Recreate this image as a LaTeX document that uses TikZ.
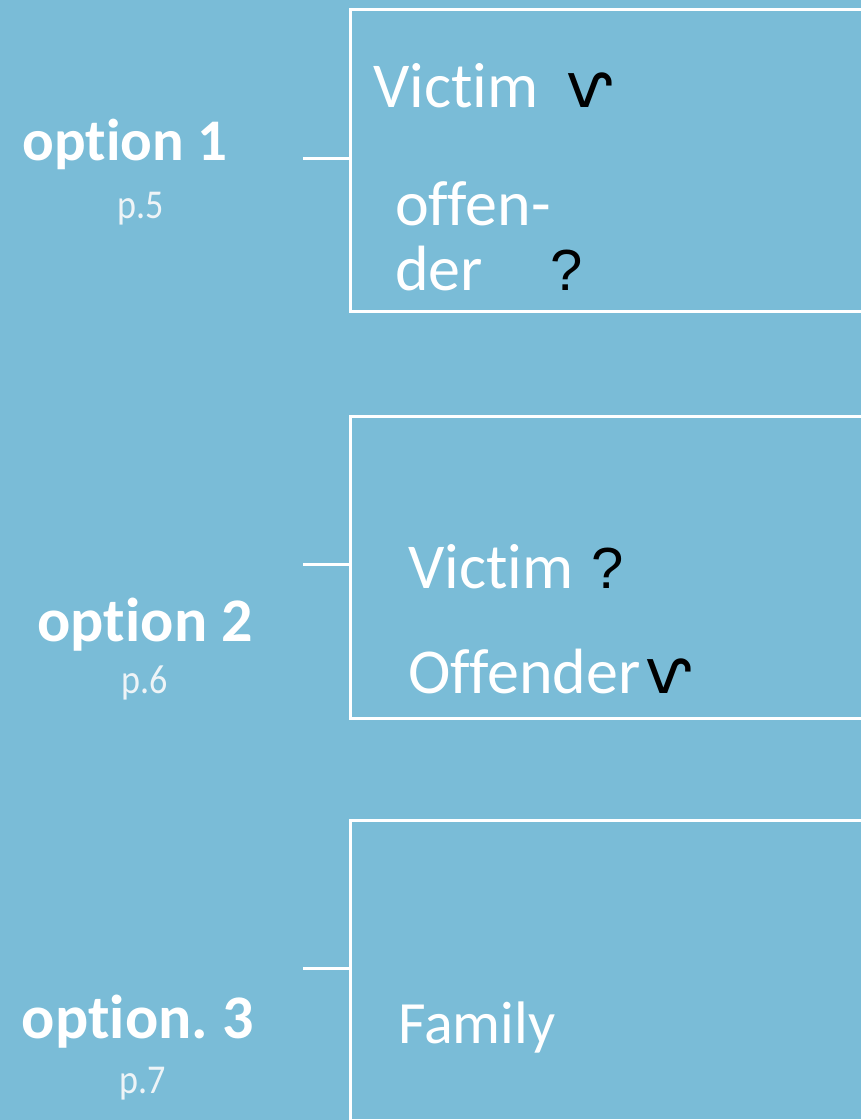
\documentclass[tikz,border=0pt]{standalone}
\usepackage{fontspec}
\setmainfont{Carlito}[Ligatures=NoCommon]
\newfontfamily\narrowfont{Carlito}[Ligatures=NoCommon,FakeStretch=0.88]
\newfontfamily\markfont{DejaVu Sans}
\newfontfamily\askfont{Liberation Sans}
\usetikzlibrary{positioning}
\definecolor{sky}{HTML}{7ABCD7}
\definecolor{pagegrey}{HTML}{EEF4F7}
\tikzset{
	optbox/.style={
		rectangle,
		draw=white,
		line width=3pt,
		minimum width=560pt,
		minimum height=302pt,
		anchor=north west,
		inner sep=0pt
	},
	conn/.style={
		draw=white,
		line width=3pt
	},
	optlabel/.style={
		text=white,
		font=\bfseries\fontsize{60}{60}\selectfont,
		anchor=base,
		inner sep=0pt
	},
	pagelabel/.style={
		text=pagegrey,
		font=\narrowfont\fontsize{41}{41}\selectfont,
		anchor=base,
		inner sep=0pt
	},
	entry/.style={
		text=white,
		font=\fontsize{64}{64}\selectfont,
		anchor=base west,
		inner sep=0pt
	},
	tick/.style={
		text=black,
		font=\markfont\fontsize{62}{62}\selectfont,
		anchor=base west,
		inner sep=0pt
	},
	ask/.style={
		text=black,
		font=\askfont\fontsize{58}{58}\selectfont,
		anchor=base west,
		inner sep=0pt
	}
}

\begin{document}
\begin{tikzpicture}[x=1pt,y=-1pt]
		\fill[sky] (0,0) rectangle (861,1120);
		\useasboundingbox (0,0) rectangle (861,1120);
		\clip (0,0) rectangle (861,1120);
		% the three boxes
		\node [optbox] (box1) at (349,8) {};
		\node [optbox] (box2) at (349,415) {};
		\node [optbox,minimum height=300pt] (box3) at (349,819) {};
		\coordinate (c1) at (303,158);
		\coordinate (c2) at (303,564);
		\coordinate (c3) at (303,968);
		\draw [conn] (c1) -- (c1 -| box1.west);
		\draw [conn] (c2) -- (c2 -| box2.west);
		\draw [conn] (c3) -- (c3 -| box3.west);
		% labels on the left
		\node [optlabel,font=\bfseries\fontsize{59}{59}\selectfont] (opt1) at (125,160) {option 1};
		\node [pagelabel] (pg1) at (141,218) {p.5};
		\node [optlabel,font=\bfseries\fontsize{62}{62}\selectfont] (opt2) at (145,641) {option 2};
		\node [pagelabel] (pg2) at (145,693) {p.6};
		\node [optlabel,font=\bfseries\fontsize{62}{62}\selectfont] (opt3) at (138,1038) {option.\hspace{-4pt} 3};
		\node [pagelabel] (pg3) at (143,1093) {p.7};
		% box 1
		\node [entry] (vic1) at (373,107) {Victim};
		\node [tick] (tick1) at (566,107) {ⱱ};
		\node [entry] (off1a) at (395,225) {offen-};
		\node [entry] (off1b) at (395,290) {der};
		\node [ask] (ask1) at (550,290) {?};
		% box 2
		\node [entry] (vic2) at (408,588) {Victim};
		\node [ask] (ask2) at (591,588) {?};
		\node [entry] (off2) at (408,693) {Offender};
		\node [tick] (tick2) at (645,693) {ⱱ};
		% box 3
		\node [entry,font=\fontsize{60}{60}\selectfont] (fam) at (398,1043) {Family};
\end{tikzpicture}
\end{document}
